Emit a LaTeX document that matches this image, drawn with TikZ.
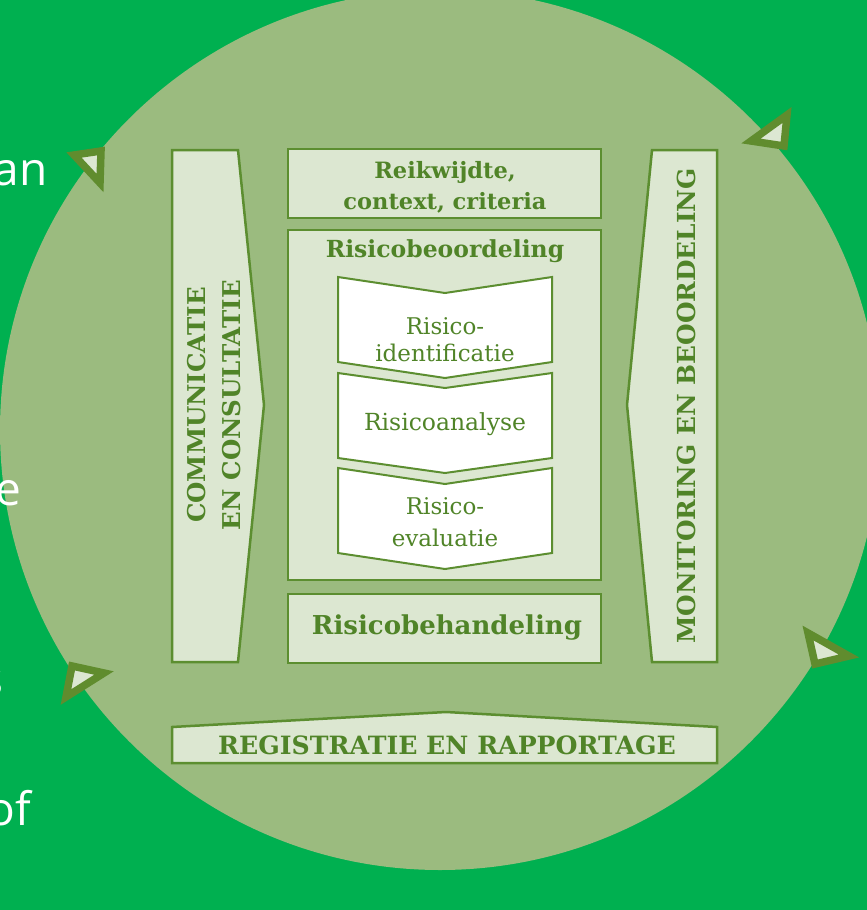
\documentclass[tikz,border=0pt]{standalone}
\usepackage{fontspec}
\setmainfont{DejaVu Serif}
\newfontfamily\slidefont{Open Sans}
\definecolor{bggreen}{RGB}{0,176,80}
\definecolor{circgreen}{RGB}{155,187,127}
\definecolor{boxfill}{RGB}{220,231,209}
\definecolor{edgegreen}{RGB}{92,142,48}
\definecolor{txtgreen}{RGB}{80,132,40}
\definecolor{trigreen}{RGB}{96,140,46}
\newcommand{\fsz}[1]{\fontsize{#1}{#1}\selectfont}
\begin{document}
\begin{tikzpicture}[x=1pt,y=-1pt,
  panel/.style={draw=edgegreen,line width=2.5pt,fill=boxfill,line join=miter},
  chev/.style={draw=edgegreen,line width=2pt,fill=white},
  boldlbl/.style={text=txtgreen,inner sep=0pt,align=center},
  plainlbl/.style={text=txtgreen,inner sep=0pt,align=center},
  tri/.style={draw=trigreen,line width=7.5pt,line join=miter,fill=white!65!circgreen},
  slidetxt/.style={text=white,font=\slidefont\fsz{46},inner sep=0pt,anchor=base east}]
\useasboundingbox (0,0) rectangle (867,910);
\fill[bggreen] (0,0) rectangle (867,910);
\begin{scope}
\clip (0,0) rectangle (867,910);
\fill[circgreen] (440,430) circle (440);
\end{scope}
% slide text fragments
\node[slidetxt] (t1) at (48,185) {an};
\node[slidetxt] (t2) at (22,505) {e};
\node[slidetxt] (t3) at (4,695) {s};
\node[slidetxt] (t4) at (31,825) {of};
% arrowheads on the circle
\draw[tri] (74,155) -- (101,151) -- (100,183) -- cycle;
\draw[tri] (751,141) -- (787,115) -- (784,146) -- cycle;
\draw[tri] (72,666) -- (104,673) -- (66,697) -- cycle;
\draw[tri] (808,633) -- (849,656) -- (815,664) -- cycle;
% panels
\draw[panel] (172,150) -- (238,150) -- (264,405) -- (238,662) -- (172,662) -- cycle;
\draw[panel] (288,149) rectangle (601,218);
\draw[panel] (288,230) rectangle (601,580);
\draw[panel] (288,594) rectangle (601,663);
\draw[panel] (652,150) -- (717,150) -- (717,662) -- (652,662) -- (627,405) -- cycle;
\draw[panel] (172,727) -- (446,712) -- (717,727) -- (717,763) -- (172,763) -- cycle;
% chevrons
\draw[chev] (338,277) -- (445,293) -- (552,277) -- (552,362) -- (445,378) -- (338,362) -- cycle;
\draw[chev] (338,373) -- (445,388) -- (552,373) -- (552,458) -- (445,473) -- (338,458) -- cycle;
\draw[chev] (338,468) -- (445,484) -- (552,468) -- (552,553) -- (445,569) -- (338,553) -- cycle;
% labels
\node[boldlbl,font=\bfseries\fontsize{22.5}{31}\selectfont] (scope) at (445,187) {Reikwijdte,\\context, criteria};
\node[boldlbl,font=\bfseries\fsz{23.5}] (assess) at (445,251) {Risicobeoordeling};
\node[plainlbl,font=\fontsize{23}{27}\selectfont] (ident) at (445,340) {Risico-\\identificatie};
\node[plainlbl,font=\fsz{23.5}] (anal) at (445,424) {Risicoanalyse};
\node[plainlbl,font=\fontsize{23}{32}\selectfont] (eval) at (445,522) {Risico-\\evaluatie};
\node[boldlbl,font=\bfseries\fsz{26}] (treat) at (447,628) {Risicobehandeling};
\node[boldlbl,font=\bfseries\fsz{24.5},rotate=90] (comm1) at (197,405) {COMMUNICATIE};
\node[boldlbl,font=\bfseries\fsz{24.5},rotate=90] (comm2) at (232,405) {EN CONSULTATIE};
\node[boldlbl,font=\bfseries\fsz{24.8},rotate=90] (mon) at (686,406) {MONITORING EN BEOORDELING};
\node[boldlbl,font=\bfseries\fsz{25.2}] (reg) at (447,745) {REGISTRATIE EN RAPPORTAGE};
\end{tikzpicture}
\end{document}
